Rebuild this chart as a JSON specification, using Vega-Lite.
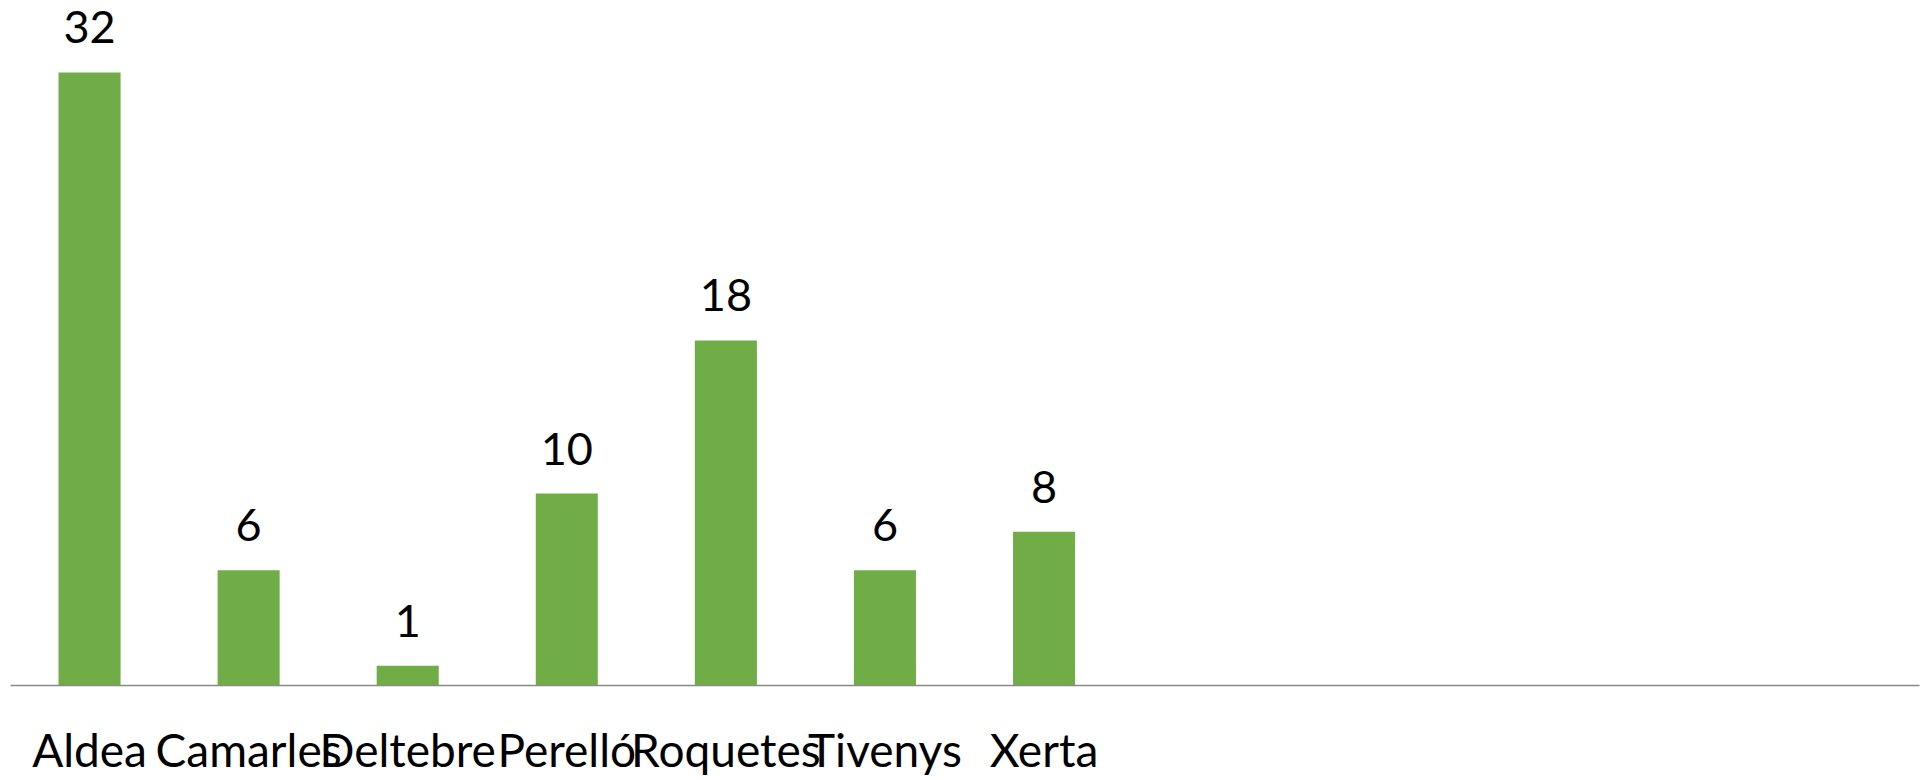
{
  "$schema": "https://vega.github.io/schema/vega-lite/v6.json",
  "autosize": "none",
  "width": 1909,
  "height": 670,
  "padding": {"left": 10, "top": 15, "right": 6, "bottom": 95},
  "background": "white",
  "config": {"view": {"stroke": null}},
  "data": {"values": [
    {"town": "Aldea", "count": 32},
    {"town": "Camarles", "count": 6},
    {"town": "Deltebre", "count": 1},
    {"town": "Perelló", "count": 10},
    {"town": "Roquetes", "count": 18},
    {"town": "Tivenys", "count": 6},
    {"town": "Xerta", "count": 8}
  ]},
  "encoding": {
    "x": {
      "field": "town", "type": "nominal", "sort": null,
      "scale": {"domain": ["Aldea","Camarles","Deltebre","Perelló","Roquetes","Tivenys","Xerta"," ","  ","   ","    ","     "], "paddingInner": 0.61, "paddingOuter": 0.305},
      "axis": {"title": null, "labelAngle": 0, "ticks": false, "tickSize": 0, "labelPadding": 81, "labelBaseline": "alphabetic",
               "labelFont": "Lato", "labelFontSize": 46, "labelColor": "#000000", "labelOverlap": false, "labelLimit": 1000,
               "domainColor": "#898989", "domainWidth": 1.5, "grid": false}
    },
    "y": {"field": "count", "type": "quantitative", "scale": {"domain": [0, 35], "nice": false}, "axis": null}
  },
  "layer": [
    {"mark": {"type": "bar", "color": "#70AD47"}},
    {"mark": {"type": "text", "baseline": "alphabetic", "dy": -29, "font": "Lato", "fontSize": 45, "color": "#000000"},
     "encoding": {"text": {"field": "count", "type": "quantitative"}}}
  ]
}
